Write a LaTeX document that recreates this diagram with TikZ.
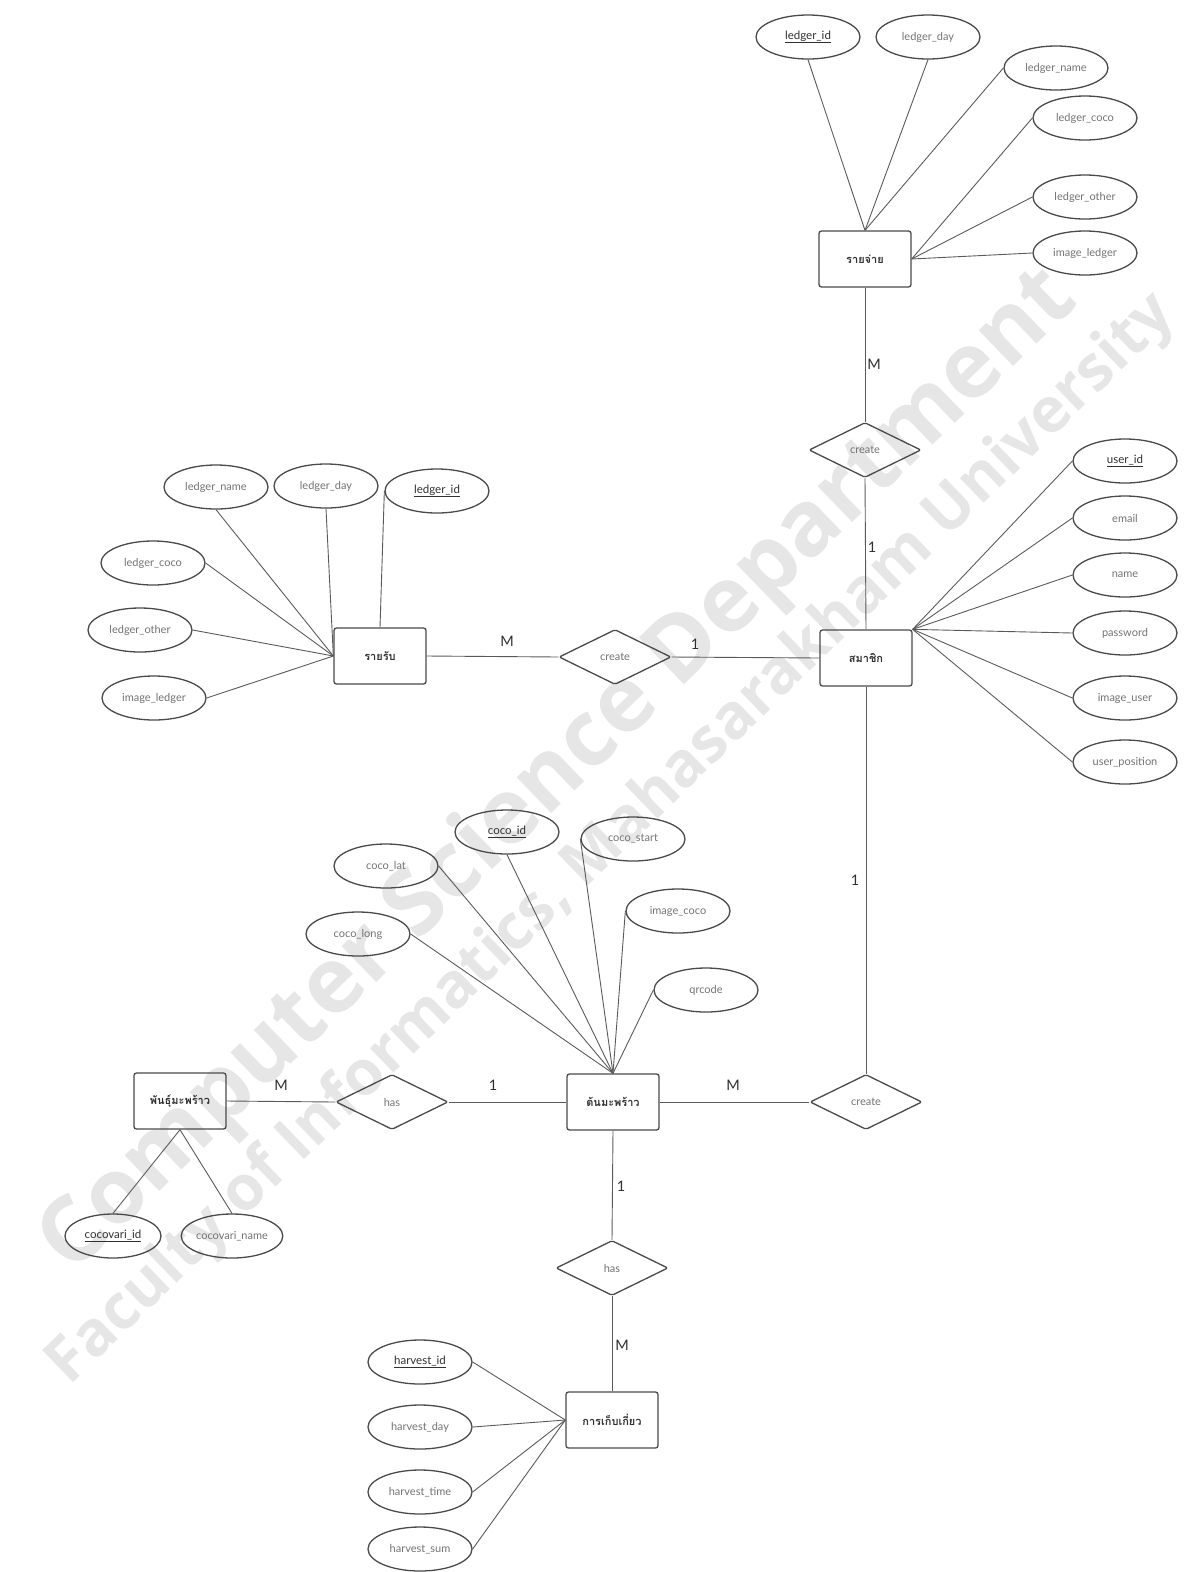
\documentclass[tikz,border=0pt]{standalone}
\usepackage{graphicx}
\usepackage{fontspec}
\setmainfont{Lato}
\newfontfamily\thaifont[Script=Thai]{Loma}
\newfontfamily\wmfont{Open Sans}
\usetikzlibrary{shapes.geometric}
\definecolor{edgec}{HTML}{4A4A4A}
\definecolor{linec}{HTML}{5A5A5A}
\definecolor{attrtxt}{HTML}{727272}
\definecolor{keytxt}{HTML}{303030}
\definecolor{wmc}{HTML}{E6E6E6}
\tikzset{
 entity/.style={draw=edgec, line width=1.3pt, rounded corners=2.5pt, minimum width=92pt, minimum height=56pt, inner sep=0pt, font=\thaifont\bfseries\fontsize{11}{13}\selectfont, text=keytxt},
 rel/.style={draw=edgec, diamond, line width=1.3pt, minimum width=112pt, minimum height=55pt, inner sep=0pt, font=\fontsize{11}{13}\selectfont, text=attrtxt, rounded corners=1.5pt},
 attr/.style={draw=edgec, ellipse, line width=1.3pt, minimum width=104pt, minimum height=44pt, inner sep=0pt, font=\fontsize{11}{13}\selectfont, text=attrtxt},
 keyattr/.style={attr, text=keytxt, font=\fontsize{11.5}{13}\selectfont},
 card/.style={font=\fontsize{14.5}{16}\selectfont, text=keytxt, inner sep=0pt},
 conn/.style={draw=linec, line width=0.9pt},
 wmtext/.style={text=wmc, inner sep=0pt},
}
\begin{document}
\begin{tikzpicture}[x=1pt,y=-1pt]
\useasboundingbox (0,0) rectangle (1191,1572);
% watermark
\node[wmtext, rotate=44] (wm1) at (560,772) {\resizebox{1400pt}{!}{\wmfont\bfseries Computer Science Department}};
\node[wmtext, rotate=44] (wm2) at (612,840) {\resizebox{1540pt}{!}{\wmfont\bfseries Faculty of Informatics, Mahasarakham University}};

% entities
\node[entity] (rj) at (865,259) {รายจ่าย};
\node[entity] (rr) at (380,656) {รายรับ};
\node[entity] (sm) at (866,658) {สมาชิก};
\node[entity] (tm) at (613,1102) {ต้นมะพร้าว};
\node[entity] (pm) at (180,1101) {พันธุ์มะพร้าว};
\node[entity] (hv) at (612,1420) {การเก็บเกี่ยว};

% relationships
\node[rel] (c1) at (865,450) {create};
\node[rel] (c2) at (615,657) {create};
\node[rel] (c3) at (866,1102) {create};
\node[rel] (h1) at (392,1102) {has};
\node[rel] (h2) at (612,1268) {has};

% attributes of rj
\node[keyattr] (a1) at (808,37) {\underline{ledger\_id}};
\node[attr] (a2) at (928,37) {ledger\_day};
\node[attr] (a3) at (1056,68) {ledger\_name};
\node[attr] (a4) at (1085,118) {ledger\_coco};
\node[attr] (a5) at (1085,197) {ledger\_other};
\node[attr] (a6) at (1085,253) {image\_ledger};

% attributes of rr
\node[attr] (b1) at (216,487) {ledger\_name};
\node[attr] (b2) at (326,486) {ledger\_day};
\node[keyattr] (b3) at (437,491) {\underline{ledger\_id}};
\node[attr] (b4) at (153,563) {ledger\_coco};
\node[attr] (b5) at (140,630) {ledger\_other};
\node[attr] (b6) at (154,698) {image\_ledger};

% attributes of sm
\node[keyattr] (u1) at (1125,461) {\underline{user\_id}};
\node[attr] (u2) at (1125,518) {email};
\node[attr] (u3) at (1125,575) {name};
\node[attr] (u4) at (1125,633) {password};
\node[attr] (u5) at (1125,698) {image\_user};
\node[attr] (u6) at (1125,762) {user\_position};

% attributes of tm
\node[attr] (t1) at (386,866) {coco\_lat};
\node[keyattr] (t2) at (507,832) {\underline{coco\_id}};
\node[attr] (t3) at (633,839) {coco\_start};
\node[attr] (t4) at (358,934) {coco\_long};
\node[attr] (t5) at (678,911) {image\_coco};
\node[attr] (t6) at (706,990) {qrcode};

% attributes of pm
\node[keyattr, minimum width=96pt] (p1) at (113,1236) {\underline{cocovari\_id}};
\node[attr, minimum width=100pt] (p2) at (232,1236) {cocovari\_name};

% attributes of hv
\node[keyattr] (v1) at (420,1362) {\underline{harvest\_id}};
\node[attr] (v2) at (420,1427) {harvest\_day};
\node[attr] (v3) at (420,1492) {harvest\_time};
\node[attr] (v4) at (420,1549) {harvest\_sum};

% attribute connectors
\draw[conn] (rj.north) -- (a1.south);
\draw[conn] (rj.north) -- (a2.south);
\draw[conn] (rj.north) -- (a3.west);
\draw[conn] (rj.east) -- (a4.west);
\draw[conn] (rj.east) -- (a5.west);
\draw[conn] (rj.east) -- (a6.west);

\draw[conn] (rr.west) -- (b1.south);
\draw[conn] (rr.west) -- (b2.south);
\draw[conn] (rr.north) -- (b3.west);
\draw[conn] (rr.west) -- (b4.east);
\draw[conn] (rr.west) -- (b5.east);
\draw[conn] (rr.west) -- (b6.east);

\foreach \u in {u1,u2,u3,u4,u5,u6} \draw[conn] (sm.north east) -- (\u.west);

\draw[conn] (tm.north) -- (t1.east);
\draw[conn] (tm.north) -- (t2.south);
\draw[conn] (tm.north) -- (t3.west);
\draw[conn] (tm.north) -- (t4.east);
\draw[conn] (tm.north) -- (t5.west);
\draw[conn] (tm.north) -- (t6.west);

\draw[conn] (pm.south) -- (p1.north);
\draw[conn] (pm.south) -- (p2.north);

\foreach \v in {v1,v2,v3,v4} \draw[conn] (hv.west) -- (\v.east);

% relationship connectors
\draw[conn] (rj.south) -- (c1.north);
\draw[conn] (c1.south) -- (sm.north);
\draw[conn] (rr.east) -- (c2.west);
\draw[conn] (c2.east) -- (sm.west);
\draw[conn] (sm.south) -- (c3.north);
\draw[conn] (tm.east) -- (c3.west);
\draw[conn] (pm.east) -- (h1.west);
\draw[conn] (h1.east) -- (tm.west);
\draw[conn] (tm.south) -- (h2.north);
\draw[conn] (h2.south) -- (hv.north);

% cardinalities
\node[card] (k1) at (874,364) {M};
\node[card] (k2) at (872,547) {1};
\node[card] (k3) at (507,641) {M};
\node[card] (k4) at (695,644) {1};
\node[card] (k5) at (855,880) {1};
\node[card] (k6) at (733,1085) {M};
\node[card] (k7) at (493,1085) {1};
\node[card] (k8) at (281,1085) {M};
\node[card] (k9) at (621,1186) {1};
\node[card] (k10) at (622,1345) {M};
\end{tikzpicture}
\end{document}
